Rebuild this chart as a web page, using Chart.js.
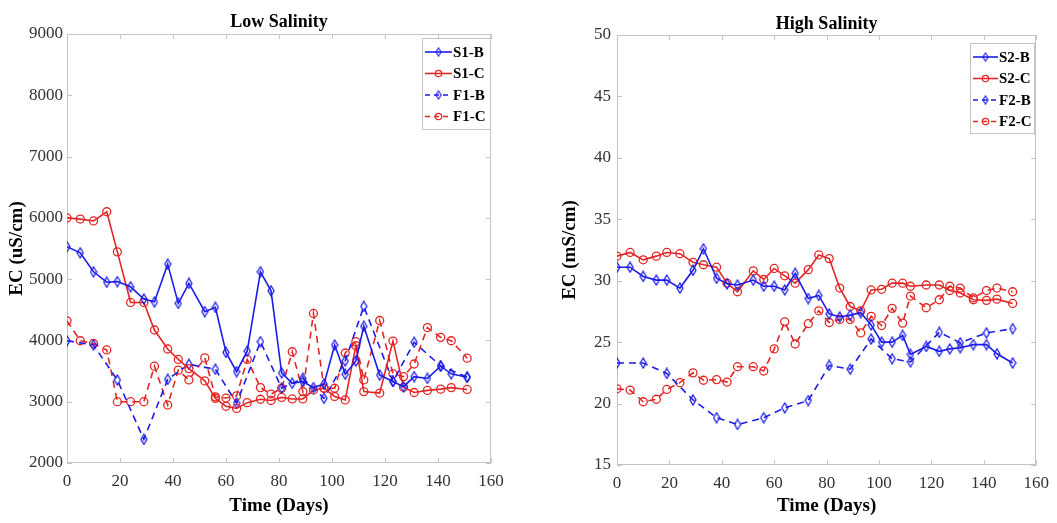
<!DOCTYPE html>
<html>
<head>
<meta charset="utf-8">
<script src="https://cdn.jsdelivr.net/npm/chart.js@4.4.1/dist/chart.umd.min.js"></script>
<style>
  body { margin: 0; background: #fff; }
  #wrap { position: relative; width: 1057px; height: 523px; }
  canvas { position: absolute; top: 0; }
</style>
</head>
<body>
<div id="wrap">
  <canvas id="lowChart" width="540" height="523" style="left:0;width:540px;height:523px"></canvas>
  <canvas id="highChart" width="517" height="523" style="left:540px;width:517px;height:523px"></canvas>
</div>
<script>
// Jours d'échantillonnage
const days = [0, 5, 10, 15, 19, 24, 29, 33, 38, 42, 46, 52, 56, 60, 64, 68, 73, 77, 81, 85, 89, 93, 97, 101, 105, 109, 112, 118, 123, 127, 131, 136, 141, 145, 151]
const daysF = [0, 10, 19, 29, 38, 46, 56, 64, 73, 81, 89, 97, 105, 112, 123, 131, 141, 151]

// Faible salinité (uS/cm)
const s1b = [5530, 5430, 5120, 4950, 4960, 4875, 4675, 4630, 5245, 4605, 4930, 4470, 4540, 3805, 3490, 3825, 5120, 4810, 3470, 3300, 3330, 3230, 3290, 3925, 3450, 3665, 4230, 3435, 3330, 3245, 3410, 3380, 3580, 3455, 3400]
const s1c = [6000, 5980, 5950, 6100, 5445, 4620, 4620, 4170, 3860, 3690, 3540, 3340, 3055, 2925, 2890, 2985, 3040, 3020, 3070, 3045, 3045, 3190, 3220, 3085, 3030, 3915, 3165, 3140, 3990, 3235, 3150, 3185, 3205, 3230, 3200]
const f1b = [3995, 3925, 3355, 2385, 3365, 3610, 3530, 2975, 3980, 3220, 3380, 3055, 3665, 4555, 3330, 3970, 3585, 3400]
const f1c = [4320, 3995, 3950, 3845, 3000, 3000, 3000, 3580, 2945, 3515, 3355, 3715, 3080, 3060, 3095, 3690, 3230, 3125, 3220, 3815, 3165, 4440, 3220, 3220, 3795, 3980, 3355, 4325, 3455, 3410, 3615, 4210, 4050, 3995, 3710]

// Forte salinité (mS/cm)
const s2b = [31.1, 31.1, 30.35, 30.05, 30.05, 29.4, 30.85, 32.6, 30.2, 29.75, 29.65, 30.05, 29.55, 29.55, 29.25, 30.6, 28.55, 28.8, 27.3, 27.05, 27.2, 27.4, 26.4, 25.0, 25.0, 25.55, 24.0, 24.65, 24.25, 24.45, 24.55, 24.8, 24.8, 24.05, 23.3]
const s2c = [32.0, 32.3, 31.7, 32.0, 32.3, 32.2, 31.5, 31.3, 31.1, 29.8, 29.1, 30.8, 30.1, 31.0, 30.4, 29.8, 30.9, 32.1, 31.8, 29.4, 27.9, 27.55, 29.25, 29.3, 29.8, 29.8, 29.55, 29.65, 29.65, 29.2, 29.0, 28.45, 28.4, 28.5, 28.15]
const f2b = [23.3, 23.3, 22.45, 20.3, 18.85, 18.3, 18.85, 19.65, 20.25, 23.1, 22.8, 25.25, 23.65, 23.4, 25.8, 24.95, 25.75, 26.1]
const f2c = [21.2, 21.1, 20.15, 20.35, 21.15, 21.7, 22.5, 21.9, 21.95, 21.75, 23.0, 23.0, 22.65, 24.45, 26.65, 24.85, 26.5, 27.55, 26.6, 26.85, 26.85, 25.75, 27.1, 26.35, 27.75, 26.55, 28.75, 27.8, 28.45, 29.55, 29.4, 28.6, 29.2, 29.4, 29.1]

const xTicks = [0, 20, 40, 60, 80, 100, 120, 140, 160]
const lowTicks = [2000, 3000, 4000, 5000, 6000, 7000, 8000, 9000]
const highTicks = [15, 20, 25, 30, 35, 40, 45, 50]

const BLUE = "#1c1ce8"
const RED = "#e42525"
const SERIF = "'Liberation Serif', 'Times New Roman', serif"
const AXIS_GREY = "#c4c4c4"

// Losange façon MATLAB (plus haut que large)
function diamondMarker(color) {
  const c = document.createElement("canvas")
  c.width = 8
  c.height = 12
  const g = c.getContext("2d")
  g.strokeStyle = color
  g.lineWidth = 1.3
  g.beginPath()
  g.moveTo(4, 1)
  g.lineTo(7, 6)
  g.lineTo(4, 11)
  g.lineTo(1, 6)
  g.closePath()
  g.stroke()
  return c
}
const blueDiamond = diamondMarker(BLUE)

function pts(xs, ys) {
  return xs.map((x, i) => ({ x: x, y: ys[i] }))
}

function series(label, xs, ys, color, dashed, marker) {
  return {
    label: label,
    data: pts(xs, ys),
    borderColor: color,
    backgroundColor: "rgba(0,0,0,0)",
    borderWidth: 1.6,
    borderDash: dashed ? [7, 5] : [],
    pointStyle: marker === "d" ? blueDiamond : "circle",
    pointRadius: 4,
    pointHoverRadius: 4,
    pointBorderWidth: 1.3,
    pointBorderColor: color,
    pointBackgroundColor: "rgba(0,0,0,0)",
    tension: 0,
  }
}

// Cadre, graduations intérieures, titre et légende
const matlabAxes = {
  id: "matlabAxes",
  beforeDatasetsDraw(chart, args, opts) {
    const { ctx, chartArea: a, scales } = chart
    ctx.save()
    ctx.strokeStyle = AXIS_GREY
    ctx.lineWidth = 1
    ctx.strokeRect(Math.round(a.left) + 0.5, Math.round(a.top) + 0.5, Math.round(a.width) - 1, Math.round(a.height) - 1)
    ctx.beginPath()
    scales.x.ticks.forEach((t) => {
      const px = Math.round(scales.x.getPixelForValue(t.value)) + 0.5
      ctx.moveTo(px, a.bottom)
      ctx.lineTo(px, a.bottom - 5)
      ctx.moveTo(px, a.top)
      ctx.lineTo(px, a.top + 5)
    })
    scales.y.ticks.forEach((t) => {
      const py = Math.round(scales.y.getPixelForValue(t.value)) + 0.5
      ctx.moveTo(a.left, py)
      ctx.lineTo(a.left + 5, py)
      ctx.moveTo(a.right, py)
      ctx.lineTo(a.right - 5, py)
    })
    ctx.stroke()

    // Titre
    ctx.fillStyle = "#000"
    ctx.font = "bold 18px " + SERIF
    ctx.textAlign = "center"
    ctx.textBaseline = "alphabetic"
    ctx.fillText(opts.title, (a.left + a.right) / 2, opts.titleY)
    ctx.restore()
  },
  afterDraw(chart, args, opts) {
    const { ctx } = chart
    const L = opts.legend
    ctx.save()
    ctx.fillStyle = "#fff"
    ctx.fillRect(L.x, L.y, L.w, L.h)
    ctx.strokeStyle = AXIS_GREY
    ctx.lineWidth = 1
    ctx.strokeRect(L.x + 0.5, L.y + 0.5, L.w, L.h)
    chart.data.datasets.forEach((ds, i) => {
      const cy = L.y + L.first + i * L.row
      const x0 = L.x + 3
      const x1 = L.x + L.lineW
      ctx.strokeStyle = ds.borderColor
      ctx.lineWidth = 1.6
      ctx.setLineDash(ds.borderDash.length ? [5, 4] : [])
      ctx.beginPath()
      ctx.moveTo(x0, cy)
      ctx.lineTo(x1, cy)
      ctx.stroke()
      ctx.setLineDash([])
      const mx = (x0 + x1) / 2
      if (ds.pointStyle === "circle") {
        ctx.lineWidth = 1.2
        ctx.beginPath()
        ctx.arc(mx, cy, 3.2, 0, Math.PI * 2)
        ctx.stroke()
      } else {
        ctx.drawImage(ds.pointStyle, mx - 3.5, cy - 5, 7, 10)
      }
      ctx.fillStyle = "#000"
      ctx.font = "bold " + L.font + "px " + SERIF
      ctx.textAlign = "left"
      ctx.textBaseline = "middle"
      ctx.fillText(ds.label, x1 + 1, cy + 1)
    })
    ctx.restore()
  },
}

function makeChart(id, cfg) {
  const ctx = document.getElementById(id).getContext("2d")
  return new Chart(ctx, {
    type: "line",
    data: { datasets: cfg.datasets },
    plugins: [matlabAxes],
    options: {
      responsive: false,
      animation: false,
      events: [],
      layout: { padding: { top: cfg.top, right: cfg.right, left: 0, bottom: 0 } },
      plugins: {
        legend: { display: false },
        tooltip: { enabled: false },
        matlabAxes: { title: cfg.title, titleY: cfg.titleY, legend: cfg.legend },
      },
      scales: {
        x: {
          type: "linear",
          min: 0,
          max: 160,
          afterBuildTicks: (s) => {
            s.ticks = xTicks.map((v) => ({ value: v }))
          },
          afterFit: (s) => {
            s.height = cfg.xHeight
          },
          grid: { display: false, drawTicks: false },
          border: { display: false },
          ticks: {
            color: "#333",
            padding: 8,
            font: { family: SERIF, size: 17 },
            callback: (v) => String(v),
          },
          title: {
            display: true,
            text: "Time (Days)",
            color: "#000",
            font: { family: SERIF, size: 19, weight: "bold" },
            padding: { top: 0, bottom: 6 },
          },
        },
        y: {
          type: "linear",
          min: cfg.yTicks[0],
          max: cfg.yTicks[cfg.yTicks.length - 1],
          afterBuildTicks: (s) => {
            s.ticks = cfg.yTicks.map((v) => ({ value: v }))
          },
          afterFit: (s) => {
            s.width = cfg.yWidth
          },
          grid: { display: false, drawTicks: false },
          border: { display: false },
          ticks: {
            color: "#333",
            padding: cfg.yPad,
            font: { family: SERIF, size: 17 },
            callback: (v) => String(v),
          },
          title: {
            display: true,
            text: cfg.yTitle,
            color: "#000",
            font: { family: SERIF, size: 19, weight: "bold" },
            padding: { top: cfg.yTitlePad, bottom: 0 },
          },
        },
      },
    },
  })
}

makeChart("lowChart", {
  title: "Low Salinity",
  titleY: 27,
  yTitle: "EC (uS/cm)",
  yTicks: lowTicks,
  top: 34,
  right: 49,
  xHeight: 60,
  yWidth: 67,
  yPad: 4,
  yTitlePad: 6,
  legend: { x: 422, y: 38, w: 68, h: 91, first: 14, row: 21.5, lineW: 30, font: 15 },
  datasets: [
    series("S1-B", days, s1b, BLUE, false, "d"),
    series("S1-C", days, s1c, RED, false, "o"),
    series("F1-B", daysF, f1b, BLUE, true, "d"),
    series("F1-C", days, f1c, RED, true, "o"),
  ],
})

makeChart("highChart", {
  title: "High Salinity",
  titleY: 29,
  yTitle: "EC (mS/cm)",
  yTicks: highTicks,
  top: 35,
  right: 17,
  xHeight: 58,
  yWidth: 77,
  yPad: 6,
  yTitlePad: 19,
  legend: { x: 430, y: 43, w: 64, h: 90, first: 14, row: 21.5, lineW: 28, font: 15 },
  datasets: [
    series("S2-B", days, s2b, BLUE, false, "d"),
    series("S2-C", days, s2c, RED, false, "o"),
    series("F2-B", daysF, f2b, BLUE, true, "d"),
    series("F2-C", days, f2c, RED, true, "o"),
  ],
})
</script>
</body>
</html>
